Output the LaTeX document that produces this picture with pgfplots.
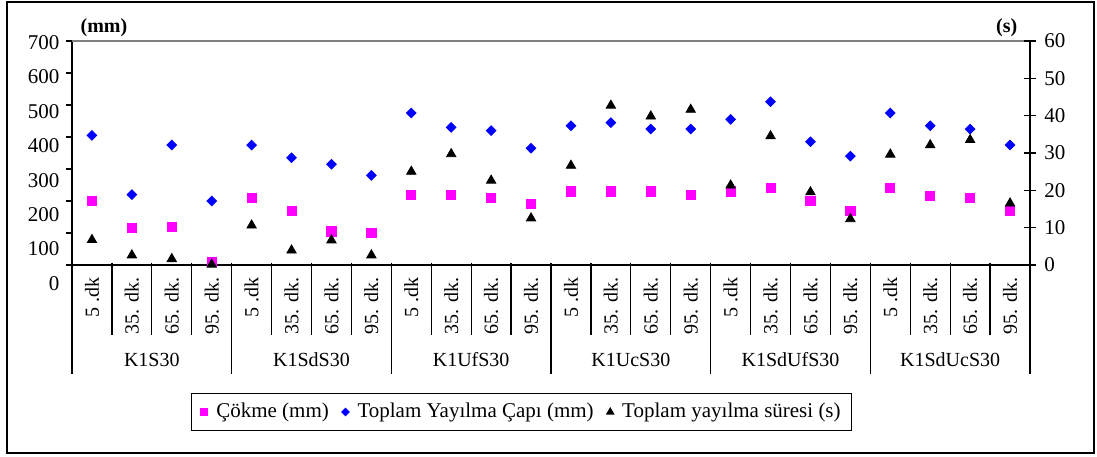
\documentclass[border=0pt]{standalone}
\usepackage{fontspec}
\setmainfont{Liberation Serif}
\usepackage{pgfplots}
\usepackage{pgfplotstable}
\pgfplotsset{compat=1.18}

\definecolor{cokme}{HTML}{FF00FF}
\definecolor{yayilma}{HTML}{0000FF}

% x: category centre; cokme (mm), cap = spread diameter (mm), sure = spread time (s)
\pgfplotstableread{
idx   cokme  cap   sure
0.5   200    405   7.1
1.5   115    220   3.0
2.5   120    375   2.0
3.5   10     200   0.5
4.5   210    375   11.0
5.5   170    335   4.3
6.5   105    315   7.0
7.5   100    280   3.0
8.5   220    475   25.4
9.5   220    430   30.1
10.5  210    420   23.0
11.5  190    365   12.9
12.5  230    435   27.0
13.5  230    445   43.1
14.5  230    425   40.2
15.5  220    425   42.0
16.5  230    455   21.7
17.5  240    510   34.9
18.5  200    385   19.9
19.5  170    340   12.7
20.5  240    475   30.0
21.5  215    435   32.5
22.5  210    425   33.9
23.5  170    375   16.9
}\datatable

\pgfplotsset{
  tight mark legend/.style={
    legend image code/.code={%
      \path[draw=none, fill=none] (-3pt,0pt) -- (6pt,0pt);
      \draw[mark repeat=2,mark phase=2,##1]
        plot coordinates {(-1pt,0pt) (0pt,0pt) (1pt,0pt)};}},
  common frame/.style={
    at={(36pt,95.5pt)}, anchor=south west,
    scale only axis, width=479pt, height=112pt,
    xmin=0, xmax=24, clip=false,
    axis line style={line width=1pt},
    /pgf/number format/assume math mode=true,
    x tick label style={font=\fontsize{10}{12}\selectfont},
    y tick label style={font=\fontsize{10.5}{12}\selectfont},
  },
}

\begin{document}
\begin{tikzpicture}
\path (0,0) rectangle (548.5pt,228pt);
\draw[line width=0.7pt] (3.5pt,1.5pt) rectangle (547pt,227pt);

% left axis: mm
\begin{axis}[
  common frame,
  ymin=0, ymax=700,
  axis x line*=bottom, axis y line*=left,
  ytick={0,100,...,700},
  tick align=outside,
  major tick length=2.8pt,
  ytick style={line width=0.8pt, black},
  yticklabel style={yshift={-(0.85+(7-\ticknum)*1.19)*1pt}},
  xtick={0.5,1.5,...,23.5},
  xtick style={draw=none},
  xticklabels={5 .dk,35. dk.,65. dk.,95. dk.,
               5 .dk,35. dk.,65. dk.,95. dk.,
               5 .dk,35. dk.,65. dk.,95. dk.,
               5 .dk,35. dk.,65. dk.,95. dk.,
               5 .dk,35. dk.,65. dk.,95. dk.,
               5 .dk,35. dk.,65. dk.,95. dk.},
  xticklabel style={rotate=90, anchor=east},
  xticklabel shift=0pt,
]
\addplot[only marks, mark=square*, mark size=2.3pt, color=cokme]
  table[x=idx, y=cokme] {\datatable};
\addplot[only marks, mark=square*, mark size=1.7pt, mark options={rotate=45}, color=yayilma]
  table[x=idx, y=cap] {\datatable};

% top edge of the plot area
\draw[gray, line width=0.8pt] (rel axis cs:0,1) -- (rel axis cs:1,1);

% category separators and group separators
\pgfplotsinvokeforeach{1,2,3,5,6,7,9,10,11,13,14,15,17,18,19,21,22,23}{
  \draw[line width=0.6pt] (axis cs:#1,0) ++(0pt,1.25pt) -- ++(0pt,-36.25pt);
}
\pgfplotsinvokeforeach{0,4,8,12,16,20,24}{
  \draw[line width=0.6pt] (axis cs:#1,0) ++(0pt,1.25pt) -- ++(0pt,-55.75pt);
}

% group names
\node at (axis cs:2,0)  [yshift=-47.5pt] {K1S30};
\node at (axis cs:6,0)  [yshift=-47.5pt] {K1SdS30};
\node at (axis cs:10,0) [yshift=-47.5pt] {K1UfS30};
\node at (axis cs:14,0) [yshift=-47.5pt] {K1UcS30};
\node at (axis cs:18,0) [yshift=-47.5pt] {K1SdUfS30};
\node at (axis cs:22,0) [yshift=-47.5pt] {K1SdUcS30};

% unit labels
\node[font=\bfseries] at (rel axis cs:0.0334,1.0603) {(mm)};
\node[font=\bfseries] at (rel axis cs:0.9757,1.0603) {(s)};
\end{axis}

% right axis: s
\begin{axis}[
  common frame,
  ymin=0, ymax=60,
  axis x line=none, axis y line*=right,
  ytick={0,10,...,60},
  tick align=center,
  major tick length=5.8pt,
  ytick style={line width=0.8pt, black},
  yticklabel style={anchor=west, xshift=0.8pt},
  legend columns=-1,
  legend style={
    at={(0.4692,-0.65625)}, anchor=center,
    draw=black, line width=0.6pt,
    inner xsep=3.5pt, inner ysep=5pt,
    nodes={inner sep=0pt},
    font=\fontsize{10.5}{12}\selectfont,
  },
]
\addlegendimage{only marks, mark=square*, mark size=1.7pt, color=cokme, tight mark legend}
\addlegendentry{Çökme (mm)\kern5.3pt}
\addlegendimage{only marks, mark=square*, mark size=1.25pt, mark options={rotate=45}, color=yayilma, tight mark legend}
\addlegendentry{Toplam Yayılma Çapı (mm)\kern5.3pt}
\addlegendimage{only marks, mark=triangle*, mark size=1.9pt, black, tight mark legend}
\addlegendentry{Toplam yayılma süresi (s)\kern2pt}

\addplot[forget plot, only marks, mark=triangle*, mark size=2.7pt,
         mark options={yshift=-0.7pt}, black]
  table[x=idx, y=sure] {\datatable};
\end{axis}
\end{tikzpicture}
\end{document}
